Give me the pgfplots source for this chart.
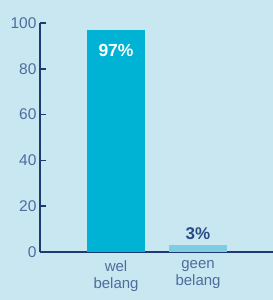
\documentclass[border=0pt]{standalone}
\usepackage{pgfplots}
\pgfplotsset{compat=1.18}
\usepackage{fontspec}
\setmainfont{Liberation Sans}
\definecolor{bg}{HTML}{C9E7F1}
\definecolor{barone}{HTML}{00B2D3}
\definecolor{bartwo}{HTML}{7FCDE1}
\definecolor{navy}{HTML}{1E3A70}
\definecolor{tickc}{HTML}{4E6C9C}
\definecolor{lab}{HTML}{2A4A82}
\begin{document}
\begin{tikzpicture}
\useasboundingbox (0,0) rectangle (273pt,300pt);
\fill[bg] (0,0) rectangle (273pt,300pt);
\begin{axis}[
  at={(40pt,48pt)}, anchor=south west,
  scale only axis, width=232pt, height=229pt,
  xmin=-0.927, xmax=1.902, ymin=0, ymax=100,
  axis lines=left,
  axis line style={-, draw=navy, line width=1.6pt},
  ytick={0,20,40,60,80,100},
  ytick style={draw=navy, line width=1.6pt},
  major tick length=6pt, tick align=inside,
  y tick label style={text=tickc, font=\fontsize{15.5}{15.5}\selectfont},
  /pgf/number format/assume math mode=true,
  xtick={0,1},
  xticklabels={wel\\belang, geen\\belang},
  xtick style={draw=none},
  x tick label style={align=center, text=tickc, font=\fontsize{15}{17}\selectfont, yshift=-5pt},
  clip=false,
]
\addplot[ybar, fill=barone, draw=none, bar width=58pt, bar shift=0pt,
  nodes near coords={97\%},
  every node near coord/.append style={anchor=center, yshift=-21pt, text=white, font=\bfseries\fontsize{17.5}{17.5}\selectfont}]
  coordinates {(0,97)};
\addplot[ybar, fill=bartwo, draw=none, bar width=58pt, bar shift=0pt,
  nodes near coords={3\%},
  every node near coord/.append style={anchor=center, yshift=11pt, text=lab, font=\bfseries\fontsize{17}{17}\selectfont}]
  coordinates {(1,3)};
\draw[navy, line width=1.6pt] (axis cs:1.902,0) -- ++(0,4pt);
\end{axis}
\end{tikzpicture}
\end{document}
